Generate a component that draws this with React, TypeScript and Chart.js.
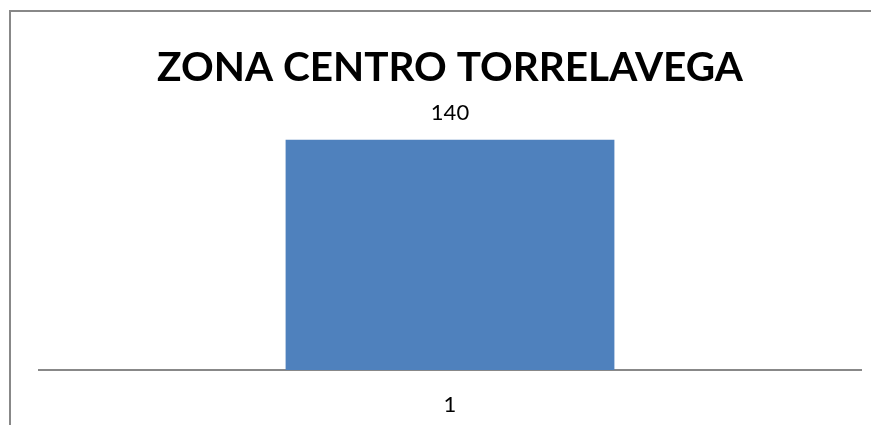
import React, { useEffect, useRef } from "react";
import { Chart, registerables } from "chart.js";

Chart.register(...registerables);

const TITLE = "ZONA CENTRO TORRELAVEGA";
const categories = ["1"];
const values = [140];

const FONT = "Lato, 'Open Sans', sans-serif";

const valueLabelPlugin = {
  id: "valueLabels",
  afterDatasetsDraw(chart: any) {
    const { ctx } = chart;
    const meta = chart.getDatasetMeta(0);
    ctx.save();
    ctx.fillStyle = "#000";
    ctx.font = `22px ${FONT}`;
    ctx.textAlign = "center";
    ctx.textBaseline = "middle";
    meta.data.forEach((bar: any, i: number) => {
      ctx.fillText(String(values[i]), bar.x, bar.y - 27);
    });
    ctx.restore();
  },
};

export default function App() {
  const ref = useRef<HTMLCanvasElement>(null);
  useEffect(() => {
    document.body.style.overflow = "hidden";
    if (!ref.current) return;
    const chart = new Chart(ref.current, {
      type: "bar",
      data: {
        labels: categories,
        datasets: [
          {
            data: values,
            backgroundColor: "#4f81bd",
            barPercentage: 0.4,
            categoryPercentage: 1,
          },
        ],
      },
      options: {
        responsive: false,
        animation: false,
        layout: { padding: { left: 28, right: 10, top: 0, bottom: 3 } },
        plugins: {
          legend: { display: false },
          tooltip: { enabled: false },
          title: {
            display: true,
            text: TITLE,
            color: "#000",
            font: { family: FONT, size: 40.5, weight: "bold" },
            padding: { top: 32, bottom: 47 },
          },
        },
        scales: {
          x: {
            grid: { display: false, drawTicks: false },
            border: { display: true, color: "#888888", width: 2 },
            ticks: { color: "#000", font: { family: FONT, size: 22 }, padding: 22 },
            afterFit: (scale: any) => {
              scale.height = 52;
            },
          },
          y: {
            display: false,
            min: 0,
            max: 140,
          },
        },
      },
      plugins: [valueLabelPlugin],
    });
    return () => chart.destroy();
  }, []);
  return (
    <div
      style={{
        position: "absolute",
        left: 9,
        top: 10,
        width: 860,
        height: 413,
        borderLeft: "2px solid #888888",
        borderTop: "2px solid #888888",
      }}
    >
      <canvas ref={ref} width={860} height={413} style={{ display: "block" }} />
    </div>
  );
}
